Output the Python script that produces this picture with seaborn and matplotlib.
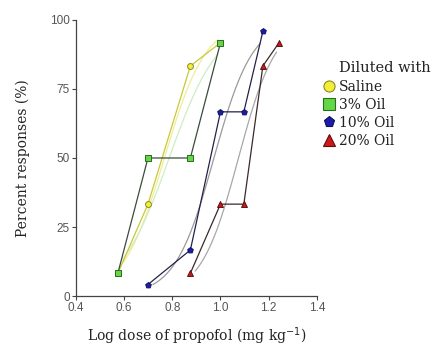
import numpy as np
import pandas as pd
import matplotlib
matplotlib.use("Agg")
import matplotlib.pyplot as plt
import seaborn as sns

# Log dose (mg/kg) and percent of animals responding for each diluent
groups = ["Saline", "3% Oil", "10% Oil", "20% Oil"]
saline_dose = [0.574, 0.699, 0.875, 1.0]
saline_resp = [8.3, 33.3, 83.3, 91.7]
oil3_dose = [0.574, 0.699, 0.875, 1.0]
oil3_resp = [8.3, 50.0, 50.0, 91.7]
oil10_dose = [0.699, 0.875, 1.0, 1.097, 1.176]
oil10_resp = [4.2, 16.7, 66.7, 66.7, 95.8]
oil20_dose = [0.875, 1.0, 1.097, 1.176, 1.243]
oil20_resp = [8.3, 33.3, 33.3, 83.3, 91.7]

x_ticks = [0.4, 0.6, 0.8, 1.0, 1.2, 1.4]
x_tick_labels = ["0.4", "0.6", "0.8", "1.0", "1.2", "1.4"]
y_ticks = [0, 25, 50, 75, 100]

doses = [saline_dose, oil3_dose, oil10_dose, oil20_dose]
resps = [saline_resp, oil3_resp, oil10_resp, oil20_resp]
df = pd.concat(
    [pd.DataFrame({"dose": d, "resp": r, "group": g}) for g, d, r in zip(groups, doses, resps)],
    ignore_index=True,
)

face = {"Saline": "#f4ee3a", "3% Oil": "#62d846", "10% Oil": "#1c1ca8", "20% Oil": "#d01818"}
edge = {"Saline": "#8a8a20", "3% Oil": "#2f6a22", "10% Oil": "#101060", "20% Oil": "#5a1010"}
line = {"Saline": "#c9c83a", "3% Oil": "#3c4a3c", "10% Oil": "#22224a", "20% Oil": "#3a2a2a"}
curve = {"Saline": "#eeee99", "3% Oil": "#cdeec0", "10% Oil": "#9a9a9a", "20% Oil": "#a8a8a8"}
marker = {"Saline": "o", "3% Oil": "s", "10% Oil": "p", "20% Oil": "^"}

sns.set_theme(style="white")
plt.rcParams["font.family"] = ["DejaVu Serif"]

fig = plt.figure(figsize=(4.34, 3.48), dpi=100)
ax = fig.add_axes([0.175, 0.149, 0.555, 0.794])

# Logistic dose-response curve fitted on the logit scale for each group
for g, d, r in zip(groups, doses, resps):
    p = np.clip(np.array(r) / 100.0, 0.02, 0.98)
    b, a = np.polyfit(np.array(d), np.log(p / (1 - p)), 1)
    xs = np.linspace(min(d) + 0.02, max(d) - 0.01, 120)
    ys = 100.0 / (1 + np.exp(-(a + b * xs)))
    ax.plot(xs, ys, color=curve[g], lw=0.9, zorder=1)

for g in groups:
    sub = df[df.group == g]
    sns.lineplot(data=sub, x="dose", y="resp", ax=ax, color=line[g], lw=0.9,
                 sort=False, estimator=None, legend=False, zorder=2)
    sns.scatterplot(data=sub, x="dose", y="resp", ax=ax, marker=marker[g], s=18,
                    color=face[g], edgecolor=edge[g], linewidth=0.7, legend=False, zorder=3)

ax.set_xlim(0.4, 1.4)
ax.set_ylim(0, 100)
ax.set_xticks(x_ticks)
ax.set_xticklabels(x_tick_labels)
ax.set_yticks(y_ticks)
for sp in ["top", "right"]:
    ax.spines[sp].set_visible(False)
for sp in ["left", "bottom"]:
    ax.spines[sp].set_color("#444444")
    ax.spines[sp].set_linewidth(0.9)
ax.tick_params(axis="both", which="both", direction="out", length=3, width=0.8,
               color="#444444", labelsize=8.5, labelcolor="#555555", pad=1.5,
               bottom=True, left=True)
for lab in ax.get_xticklabels() + ax.get_yticklabels():
    lab.set_family(["Liberation Sans", "DejaVu Sans"])

ax.set_xlabel("Log dose of propofol (mg kg$^{-1}$)", fontsize=10, color="#222222", labelpad=8)
ax.set_ylabel("Percent responses (%)", fontsize=10, color="#222222", labelpad=14)

# Legend heading sits flush with the entry labels, right of the markers
fig.text(0.781, 0.805, "Diluted with", fontsize=10.5, color="#222222",
         ha="left", va="center")
handles = [plt.Line2D([], [], ls="none", marker=marker[g], markersize=8,
                      markerfacecolor=face[g], markeredgecolor=edge[g], markeredgewidth=0.8)
           for g in groups]
leg = fig.legend(handles, groups, loc="upper left",
                 bbox_to_anchor=(0.7155, 0.799), frameon=False, fontsize=10,
                 handletextpad=0.15, labelspacing=0.3,
                 borderpad=0.2, handlelength=1.2)
for t in leg.get_texts():
    t.set_color("#222222")

fig.savefig("out.png", dpi=100)
